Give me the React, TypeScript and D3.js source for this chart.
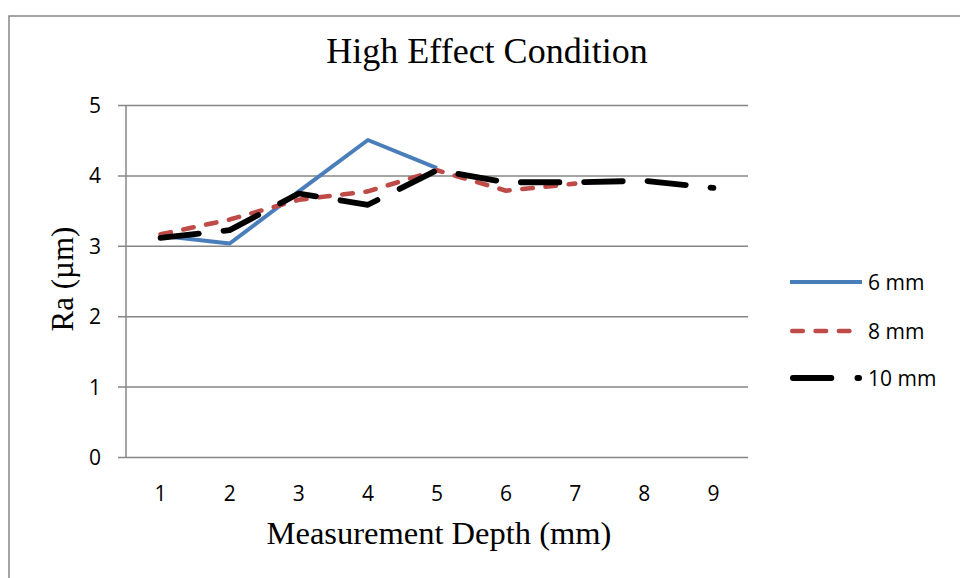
import React from "react";
import * as d3 from "d3";

const categories = ["1", "2", "3", "4", "5", "6", "7", "8", "9"];
const yTicks = [0, 1, 2, 3, 4, 5];
const series6mm = [3.15, 3.04, 3.78, 4.51, 4.11];
const series8mm = [3.17, 3.38, 3.66, 3.78, 4.08, 3.79, 3.89];
const series10mm = [3.12, 3.23, 3.75, 3.59, 4.08, 3.91, 3.91, 3.93, 3.83];
const seriesNames = ["6 mm", "8 mm", "10 mm"];

const W = 960;
const H = 578;
const plot = { left: 126, right: 748, top: 105.5, bottom: 457.5 };

const styles = [
  { color: "#4a7ebb", width: 4, dash: "none", cap: "butt" },
  { color: "#be4b48", width: 4.6, dash: "10.5,12.8", cap: "round" },
  { color: "#000000", width: 5.8, dash: "38.5,26", cap: "round" },
];

export default function App() {
  const x = d3.scaleBand<string>().domain(categories).range([plot.left, plot.right]).padding(0);
  const y = d3.scaleLinear().domain([0, 5]).range([plot.bottom, plot.top]);
  const allSeries = [series6mm, series8mm, series10mm];
  const px = (i: number) => (x(categories[i]) as number) + x.bandwidth() / 2;
  const line = d3
    .line<number>()
    .x((_, i) => px(i))
    .y((d) => y(d));

  // Fit the long-dash period so the black line ends with a short "dot" like the reference
  let len = 0;
  for (let i = 1; i < series10mm.length; i++) {
    len += Math.hypot(px(i) - px(i - 1), y(series10mm[i]) - y(series10mm[i - 1]));
  }
  const n = Math.round((len - 3) / 64.5);
  const period = (len - 3) / n;
  const blackDash = `38.5,${(period - 38.5).toFixed(2)}`;

  const legendX1 = 790;
  const legendX2 = 862;
  const legendYs = [282, 331, 378];
  const sans = "'Open Sans', Lato, sans-serif";
  const serif = "'Times New Roman', 'Liberation Serif', serif";
  const grid = "#868686";
  const fs = 21;

  return (
    <svg width={W} height={H} style={{ position: "absolute", left: 0, top: 0, background: "#fff" }}>
      <rect x={9} y={16} width={W + 20} height={H + 20} fill="#fff" stroke={grid} strokeWidth={1.5} />
      <text x={487} y={62.7} textAnchor="middle" fontFamily={serif} fontSize={36} fill="#000">
        High Effect Condition
      </text>
      {yTicks.map((t) => (
        <g key={t}>
          <line x1={plot.left - 8} x2={plot.right} y1={y(t)} y2={y(t)} stroke={grid} strokeWidth={1.5} />
          <text x={101} y={y(t) + 7.5} textAnchor="end" fontFamily={sans} fontSize={fs} fill="#000">
            {t}
          </text>
        </g>
      ))}
      <line x1={plot.left} x2={plot.left} y1={plot.top} y2={plot.bottom} stroke={grid} strokeWidth={1.5} />
      {categories.map((c) => (
        <text
          key={c}
          x={(x(c) as number) + x.bandwidth() / 2}
          y={500.5}
          textAnchor="middle"
          fontFamily={sans}
          fontSize={fs}
          fill="#000"
        >
          {c}
        </text>
      ))}
      <text x={439} y={544} textAnchor="middle" fontFamily={serif} fontSize={32.5} fill="#000">
        Measurement Depth (mm)
      </text>
      <text
        transform={`translate(73,279) rotate(-90)`}
        textAnchor="middle"
        fontFamily={serif}
        fontSize={31}
        fill="#000"
      >
        Ra (µm)
      </text>
      {allSeries.map((s, i) => (
        <path
          key={i}
          d={line(s) || ""}
          fill="none"
          stroke={styles[i].color}
          strokeWidth={styles[i].width}
          strokeDasharray={i === 2 ? blackDash : styles[i].dash}
          strokeLinecap={styles[i].cap as any}
          strokeLinejoin="round"
        />
      ))}
      {seriesNames.map((nm, i) => (
        <g key={nm}>
          <line
            x1={legendX1 + (styles[i].cap === "round" ? styles[i].width / 2 : 0)}
            x2={legendX2 - (styles[i].cap === "round" ? styles[i].width / 2 : 0)}
            y1={legendYs[i]}
            y2={legendYs[i]}
            stroke={styles[i].color}
            strokeWidth={styles[i].width}
            strokeDasharray={styles[i].dash}
            strokeLinecap={styles[i].cap as any}
          />
          <text x={868} y={legendYs[i] + 7.5} fontFamily={sans} fontSize={fs} fill="#000">
            {nm}
          </text>
        </g>
      ))}
    </svg>
  );
}
